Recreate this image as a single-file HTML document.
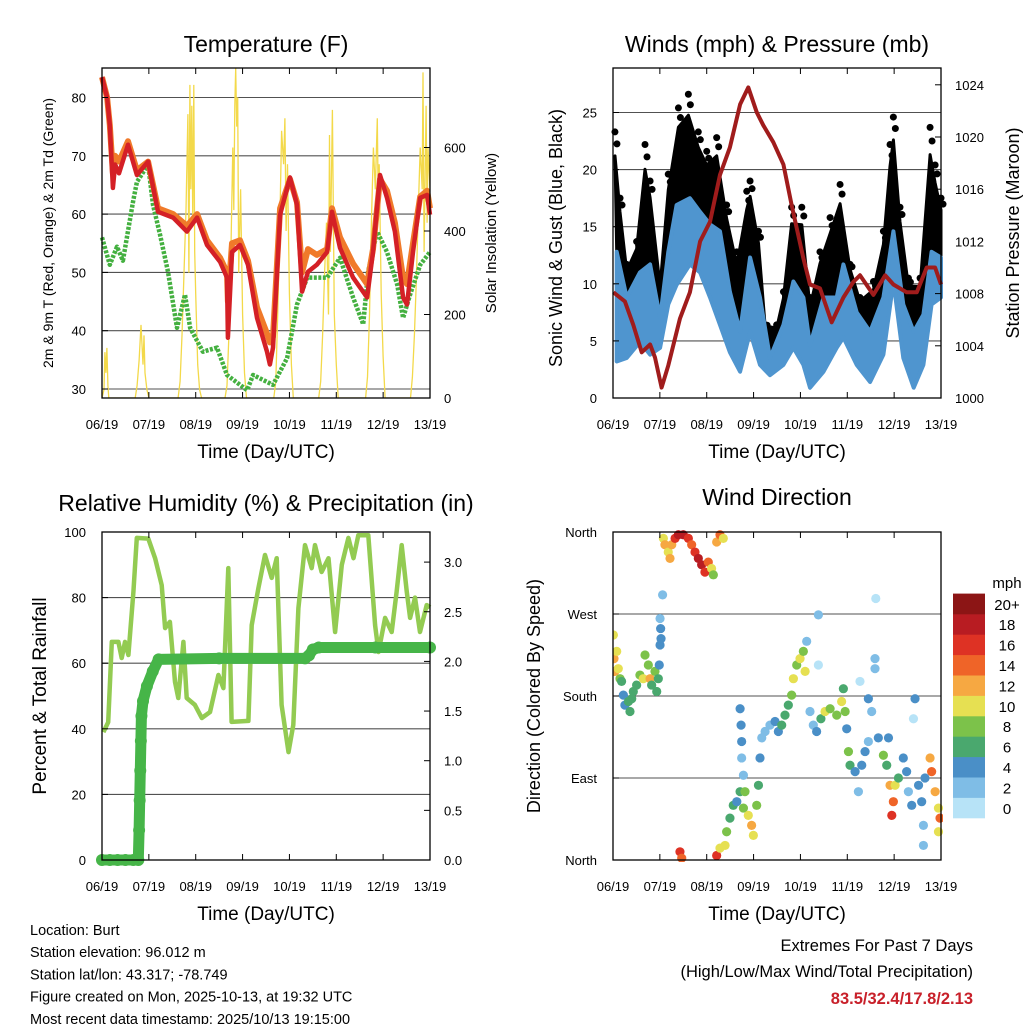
<!DOCTYPE html>
<html><head><meta charset="utf-8"><style>
html,body{margin:0;padding:0;background:#fff}
svg{display:block;font-family:"Liberation Sans",sans-serif}
</style></head><body>
<svg id="s" width="1024" height="1024" viewBox="0 0 1024 1024" xmlns="http://www.w3.org/2000/svg">
<g id="g"></g>
</svg>
<script>
// ---------- DATA ----------
const dayLabels=["06/19","07/19","08/19","09/19","10/19","11/19","12/19","13/19"];
const tempTicks=[30,40,50,60,70,80];
const solarTicks=[0,200,400,600];
const windTicks=[0,5,10,15,20,25];
const presTicks=[1000,1004,1008,1012,1016,1020,1024];
const rhTicks=[0,20,40,60,80,100];
const rainTicks=[0.0,0.5,1.0,1.5,2.0,2.5,3.0];
const dirTicks=[0,90,180,270,360];
const dirLabels=["North","East","South","West","North"];
const cbLabels=["0","2","4","6","8","10","12","14","16","18","20+"];
const cbColors=["#b7e3f7","#7fbde6","#4a8fc7","#4aa86e","#7cc24a","#e6e052","#f6a842","#ef6428","#de3224","#b81c22","#8c1515"];

const redHours=[0,2.6,4,5.6,6.7,8.7,13.3,17.9,23.6,28.7,36.4,43.5,48.7,53.8,60.5,64,64.5,66.6,70.7,74.8,79.4,84.5,86,87.6,91.2,96.3,99.9,102.5,105.5,110,115.3,117.8,121.9,128.6,135.8,138.8,142.4,146,150,154.2,156.2,159.3,163,166.5,168];
const redTemp=[83.5,80,75.3,64.5,68.5,67,71.9,66.7,69,60.4,59.4,57,59.4,54.7,51.8,49.1,38.8,53.5,54.7,51.3,42.2,36.4,34.2,37.1,59.9,66.3,61.6,46.7,50.1,51.3,53.5,60.4,54.2,49.1,45.7,53.5,66.7,62.8,57,45.7,44.5,53.5,62.8,63.3,59.9];
const orangeTemp=[83.5,80,75.3,67,70,69,72.5,67.5,69,61,60,58,60,55.5,52.5,50,45,55,55.5,52,44,39.5,38,39,61,66,62,50,54,53,54,61,56,51.5,48,54,66,64,58.5,49,48,55,63,64,61];
const dewHours=[0,4,7.7,10.7,15.9,17.9,23.6,26.1,29.7,33.8,38.4,42.5,45.1,51.7,58.9,64,74.3,77.4,87.6,94.8,99.9,105.1,115.3,121.9,128.6,133.8,136.3,140.9,146,151.2,154.2,157.8,163,168];
const dewTemp=[56,51.3,54.4,52,62.1,65.5,68.5,61.6,56.5,50.1,40.5,46.2,40.5,36.4,37.1,32.4,29.8,32.4,30.7,35.3,44.5,49.1,49.1,52.5,45.7,41.1,50.1,57,53.5,47.9,42.2,46.2,51.3,53.5];
const solarHours=[0,1,1.5,2,2.5,3,3.5,16,17,18,19,20,21,21.5,22,23,24,39,40,41,42,43,44,44.5,45,45.5,46,46.5,47,47.5,48,49,50,51,63,64,65,66,67,67.5,68,68.5,69,69.5,70,71,72,73,74,88,89,90,91,92,93,93.7,94.3,95,96,97,98,111,112,113,114,115,116,116.5,117,118,119,120,121,135,136,137,138,139,140,141,141.5,142,143,144,145,158,159,160,161,162,163,164,164.4,165,166,166.5,167,168];
const solarVal=[0,20,110,60,120,30,0,0,0,30,90,175,80,150,60,20,0,0,40,150,300,450,680,300,750,500,700,420,750,350,250,80,20,0,0,30,150,350,600,450,700,790,650,720,300,500,200,60,0,0,40,200,400,640,560,670,400,560,250,80,0,0,40,150,300,420,200,630,350,690,200,80,0,0,50,200,420,600,500,670,450,560,250,100,0,0,50,150,280,450,600,500,780,350,700,420,600,500];

const windHours=[1.9,7.0,13.8,19.0,24.1,28.3,32.6,39.4,44.6,49.7,54.8,59.9,65.1,70.2,75.3,80.4,87.3,92.4,97.5,100.9,107.8,114.6,118.0,124.8,131.7,138.5,143.6,148.7,154.0,159.0,163.2,168];
const windHi=[12.8,8.8,11,11.7,7,12.8,16.9,17.5,16.3,15.2,14.6,9.3,5.8,12.3,8.8,3.5,6.4,10.2,8.8,4.6,8.8,8.8,11.7,7.5,5.8,8.8,14.6,8.2,5.8,7.3,12.8,12.3];
const windLo=[3.2,3.5,4.9,3.8,4.4,8.2,9.9,11.7,11,8.8,6.4,4,2.3,5.8,2.9,2,2.9,4.4,2.9,0.9,2.3,4.4,5.3,2.9,1.4,3.8,10.2,3.5,0.9,2.9,8.2,8.8];
const gustHours=[1.0,3.6,7.0,12.1,16.4,19.0,24.1,28.3,33.5,38.6,43.7,48.0,53.1,58.2,63.4,68.5,70.2,74.5,77.9,83.8,87.3,91.5,96.7,100.9,106.0,111.2,116.3,121.4,126.5,133.4,138.5,141.9,143.6,147.0,151.3,157.3,162.4,165.0,168];
const gustVal=[23.3,17.5,11.7,13.7,22.2,19,10.5,19.6,25.4,26.6,23.3,21.6,22.8,16.9,12.8,18.1,19,14.6,6.4,6.4,9.3,16.7,16.7,8.8,12.8,15.8,18.7,11.7,8.8,10.2,14.6,22.2,24.6,16.7,10.5,10.5,23.7,20.4,17.5];
const presHours=[0.2,6.1,10.4,14.7,19.0,21.5,24.9,28.3,34.3,39.4,44.6,49.7,54.8,59.9,65.1,69.3,73.6,77.0,82.1,87.3,91.5,97.5,100.9,106.0,112.0,118.0,123.1,126.5,133.4,139.4,143.6,150.4,155.6,160.7,165.0,168];
const presVal=[1008.1,1007.4,1005.6,1003.5,1004.1,1003.1,1000.8,1002.5,1006.1,1008.1,1012,1013.5,1017.1,1019.2,1022.5,1023.8,1021.9,1020.9,1019.6,1017.9,1014.8,1010.7,1008.7,1008.4,1005.8,1007.7,1008.9,1009.4,1007.9,1009.4,1008.7,1008.1,1008.1,1010,1010,1008.7];

const rhHours=[0.7,3.2,5.0,8.4,10.1,11.8,13.5,16.1,17.8,23.7,27.2,30.6,32.3,34.8,37.4,39.1,41.7,43.4,47.6,51.1,55.3,59.6,62.2,64.7,66.4,75.0,76.7,80.1,83.5,86.9,89.5,92.0,95.5,98.0,100.6,104.0,107.4,109.1,112.5,116.0,119.4,122.8,126.2,128.8,131.3,136.4,139.9,141.6,145.0,148.4,150.9,153.5,156.1,157.8,160.3,162.9,166.3,168];
const rhVal=[39,42,66.5,66.5,61.6,66.5,62.5,81.7,98.2,98,92,83.8,70.7,72.6,54.3,49.4,66.5,49.4,47.3,43.3,45.1,56.4,52.4,89,42.1,42.4,71.6,82.9,93,86,92,47.3,32.9,41.2,76.8,96,89,96,87.8,92,69.5,90,98.2,92,99,99,71.6,63.4,73.8,69.5,81.7,96,81.7,73.8,80,69.5,77.7,77];
const rainHours=[0,4,8,12,16,18.6,19.0,19.3,19.6,19.9,20.2,21,23,26,29,60,104,106,108,111,140,168];
const rainVal=[0,0,0,0,0,0,0.3,0.6,0.9,1.2,1.45,1.6,1.75,1.9,2.02,2.03,2.03,2.06,2.12,2.14,2.14,2.14];

const dirHours=[0.2,0.5,1.0,1.9,2.7,3.6,4.4,5.3,6.1,7.9,8.7,9.6,10.4,12.1,13.8,15.5,16.4,18.1,19.0,19.8,21.5,22.4,23.2,23.7,24.1,24.4,24.1,25.4,24.6,25.8,26.6,28.3,29.2,30.1,31.8,33.5,36.0,38.6,40.3,42.0,43.7,45.4,47.1,48.8,50.5,51.4,53.1,54.8,56.5,34.3,35.2,53.1,54.8,57.4,58.2,59.9,61.6,63.4,65.1,66.8,67.6,69.3,71.0,71.9,73.6,74.5,65.1,65.6,65.9,65.9,66.8,75.3,76.2,77.9,80.4,83.0,84.7,86.4,88.1,89.8,91.5,92.4,94.1,95.8,97.5,98.4,99.2,100.9,102.6,104.3,105.2,105.2,106.5,108.6,111.2,114.6,117.1,118.0,118.9,119.7,120.6,121.4,124.0,125.7,127.4,129.1,130.8,130.8,126.5,132.5,134.2,134.6,134.2,135.9,138.5,140.2,141.1,141.9,143.6,142.8,144.5,146.2,148.7,150.4,151.3,153.9,154.7,153.0,156.5,158.1,159.0,159.8,162.4,163.2,165.0,166.7,167.5,166.7,159.0];
const dirDeg=[247,221,207,229,210,199,196,181,170,174,163,177,185,192,203,199,225,214,199,192,207,185,199,214,236,254,265,291,243,353,346,338,331,346,353,357,357,353,346,338,331,324,316,327,320,313,349,357,353,9,2,5,13,16,31,46,60,64,75,57,75,49,38,27,60,82,166,148,130,112,93,112,134,141,148,152,141,148,159,170,181,199,214,221,229,207,240,163,148,141,214,269,155,163,166,159,174,188,163,144,119,104,97,75,104,119,130,177,196,163,221,287,210,134,115,104,134,82,64,49,82,90,112,97,75,155,177,60,82,64,38,90,112,97,75,57,46,31,16];
const dirSpeed=[10,11,12,9,10,8,6,4,4,6,6,5,6,6,8,10,7,8,12,6,7,6,5,3,3,3,2,2,4,10,12,10,12,12,16,18,18,16,14,16,18,18,16,14,10,8,12,14,10,16,14,16,10,10,8,6,6,4,6,8,8,10,12,10,8,6,4,4,4,2,2,4,2,2,2,4,4,6,6,6,8,10,8,10,8,10,2,2,2,4,0,2,6,10,8,8,10,6,8,4,8,6,4,2,4,4,2,4,0,2,2,0,2,4,8,6,4,12,14,16,10,6,4,4,2,0,4,4,4,4,2,4,12,14,12,10,14,10,2];

// ---------- HELPERS ----------
const NS="http://www.w3.org/2000/svg";
const G=document.getElementById('g');
function mk(tag,at,parent){const e=document.createElementNS(NS,tag);for(const k in at)e.setAttribute(k,at[k]);(parent||G).appendChild(e);return e;}
function txt(str,x,y,size,anchor,extra,parent){const e=mk('text',Object.assign({x:x,y:y,'font-size':size,'text-anchor':anchor||'middle',fill:'#000'},extra||{}),parent);e.textContent=str;return e;}
function xs(p,h){return p.x0+(h/168)*(p.x1-p.x0);}
function poly(hs,vs,p,fy){return hs.map((h,i)=>xs(p,h).toFixed(1)+','+fy(vs[i]).toFixed(1)).join(' ');}
function interp(hs,vs,h){if(h<=hs[0])return vs[0];for(let i=1;i<hs.length;i++){if(h<=hs[i]){const t=(h-hs[i-1])/(hs[i]-hs[i-1]);return vs[i-1]+t*(vs[i]-vs[i-1]);}}return vs[vs.length-1];}

const P1={x0:102,x1:430,y0:68,y1:398}, P2={x0:613,x1:941,y0:68,y1:398}, P3={x0:102,x1:430,y0:532,y1:860}, P4={x0:613,x1:941,y0:532,y1:860};
const yT=v=>389-(v-30)*5.83, yS=v=>398-v*0.4175;
const yW=v=>398-v*11.42, yP=v=>398-(v-1000)*13.05;
const yRH=v=>860-v*3.28, yR=v=>860-v*99.3;
const yD=v=>860-v*328/360;

function frameAndX(p,name){
  const g=mk('g',{});
  
  
  for(let d=0;d<=7;d++){
    const x=xs(p,d*24);
    mk('line',{x1:x,y1:p.y1,x2:x,y2:p.y1-6,stroke:'#000','stroke-width':1},g);
    mk('line',{x1:x,y1:p.y0,x2:x,y2:p.y0+6,stroke:'#000','stroke-width':1},g);
    const t=txt(dayLabels[d],x,p.y1+31,13,'middle',{},g);
    
    
  }
  const tt=txt('Time (Day/UTC)',(p.x0+p.x1)/2,p.y1+60,19,'middle',{},g);
  
  
}
function border(p,name){
  const r=mk('rect',{x:p.x0,y:p.y0,width:p.x1-p.x0,height:p.y1-p.y0,fill:'none',stroke:'#000','stroke-width':1.3});
  
  
}
function grid(p,ticks,fy){
  ticks.forEach(v=>{const y=fy(v);mk('line',{x1:p.x0,y1:y,x2:p.x1,y2:y,stroke:'#333','stroke-width':1.1,'stroke-opacity':0.85});});
}
function leftTicks(p,ticks,fy,labels,name){
  const g=mk('g',{});
  
  
  ticks.forEach((v,i)=>{const y=fy(v);mk('line',{x1:p.x0,y1:y,x2:p.x0+6,y2:y,stroke:'#000'},g);
    txt(labels?labels[i]:String(v),p.x0-16,y+5,13,'end',{},g);});
}
function rightTicks(p,ticks,fy,labels,name){
  const g=mk('g',{});
  
  
  ticks.forEach((v,i)=>{const y=fy(v);mk('line',{x1:p.x1,y1:y,x2:p.x1-6,y2:y,stroke:'#000'},g);
    txt(labels?labels[i]:String(v),p.x1+14,y+5,13,'start',{},g);});
}
function vtitle(str,x,y,size,name){
  const t=txt(str,x,y,size,'middle',{transform:'rotate(-90 '+x+' '+y+')'});
  
  
}
function title(str,x,y,name){
  const t=txt(str,x,y,23,'middle');
  
  
}

// ---------- PANEL 1: Temperature ----------
{
  const cp=mk('clipPath',{id:'c1'});mk('rect',{x:P1.x0,y:P1.y0,width:328,height:330},cp);
  grid(P1,tempTicks,yT);
  const sol=mk('polyline',{points:poly(solarHours,solarVal,P1,yS),fill:'none',stroke:'#f3d94a','stroke-width':1.3,'clip-path':'url(#c1)'});
  
  
  const dew=mk('polyline',{points:poly(dewHours,dewTemp,P1,yT),fill:'none',stroke:'#44b040','stroke-width':4.5,'stroke-dasharray':'3 1.5','stroke-linejoin':'round'});
  
  
  const or=mk('polyline',{points:poly(redHours,orangeTemp,P1,yT),fill:'none',stroke:'#f07a2a','stroke-width':6,'stroke-linejoin':'round'});
  
  
  const rd=mk('polyline',{points:poly(redHours,redTemp,P1,yT),fill:'none',stroke:'#d42026','stroke-width':4.5,'stroke-linejoin':'round'});
  
  
  border(P1,'temperature');
  leftTicks(P1,tempTicks,yT,null,'temp-y-axis');
  rightTicks(P1,solarTicks,yS,null,'solar-y-axis');
  frameAndX(P1,'temperature');
  title('Temperature (F)',266,52,'temperature-title');
  vtitle('2m & 9m T (Red, Orange) & 2m Td (Green)',53,233,14,'temp-y-axis-title');
  vtitle('Solar Insolation (Yellow)',496,233,15,'solar-y-axis-title');
}
// ---------- PANEL 2: Winds ----------
{
  grid(P2,windTicks.slice(1),yW);
  // black gust cloud: from wind-band top up toward gust values
  const top=gustHours.map((h,i)=>{const base=interp(windHours,windHi,h);const v=base+(gustVal[i]-base)*0.8;return xs(P2,h).toFixed(1)+','+yW(v).toFixed(1);});
  const bot=windHours.map((h,i)=>xs(P2,h).toFixed(1)+','+yW(windHi[i]).toFixed(1)).reverse();
  const gp=mk('polygon',{points:top.concat(bot).join(' '),fill:'#000','stroke':'#000','stroke-width':3,'stroke-linejoin':'round'});
  
  
  gustHours.forEach((h,i)=>{
    const base=interp(windHours,windHi,h);
    const c=mk('circle',{cx:xs(P2,h),cy:yW(gustVal[i]),r:3.5,fill:'#000'});
    
    
    const c2=mk('circle',{cx:xs(P2,h)+2,cy:yW(base+(gustVal[i]-base)*0.9),r:3.5,fill:'#000'});
    
    
  });
  const wt=windHours.map((h,i)=>xs(P2,h).toFixed(1)+','+yW(windHi[i]).toFixed(1));
  const wb=windHours.map((h,i)=>xs(P2,h).toFixed(1)+','+yW(windLo[i]).toFixed(1)).reverse();
  const wp=mk('polygon',{points:wt.concat(wb).join(' '),fill:'#4f95cf',stroke:'#4f95cf','stroke-width':4,'stroke-linejoin':'round'});
  
  
  const pl=mk('polyline',{points:poly(presHours,presVal,P2,yP),fill:'none',stroke:'#a01c1c','stroke-width':4,'stroke-linejoin':'round'});
  
  
  border(P2,'winds');
  leftTicks(P2,windTicks,yW,null,'wind-y-axis');
  rightTicks(P2,presTicks,yP,null,'pressure-y-axis');
  frameAndX(P2,'winds');
  title('Winds (mph) & Pressure (mb)',777,52,'winds-title');
  vtitle('Sonic Wind & Gust (Blue, Black)',562,238,18,'wind-y-axis-title');
  vtitle('Station Pressure (Maroon)',1019,233,18,'pressure-y-axis-title');
}
// ---------- PANEL 3: RH & Precip ----------
{
  grid(P3,rhTicks,yRH);
  const rl=mk('polyline',{points:poly(rhHours,rhVal,P3,yRH),fill:'none',stroke:'#93cb52','stroke-width':4.5,'stroke-linejoin':'round'});
  
  
  const pr=mk('polyline',{points:poly(rainHours,rainVal,P3,yR),fill:'none',stroke:'#46b548','stroke-width':11,'stroke-linejoin':'round','stroke-linecap':'round'});
  
  
  rainHours.forEach((h,i)=>{const c=mk('circle',{cx:xs(P3,h),cy:yR(rainVal[i]),r:6,fill:'#46b548'});
    
    });
  border(P3,'humidity');
  leftTicks(P3,rhTicks,yRH,null,'rh-y-axis');
  rightTicks(P3,rainTicks,yR,rainTicks.map(v=>v.toFixed(1)),'rain-y-axis');
  frameAndX(P3,'humidity');
  title('Relative Humidity (%) & Precipitation (in)',266,511,'humidity-title');
  vtitle('Percent & Total Rainfall',46,696,19,'rh-y-axis-title');
}
// ---------- PANEL 4: Wind Direction ----------
{
  grid(P4,dirTicks,yD);
  const cp=mk('clipPath',{id:'c4'});mk('rect',{x:P4.x0,y:P4.y0-2,width:330,height:332},cp);
  const sg=mk('g',{'clip-path':'url(#c4)'});
  
  
  dirHours.forEach((h,i)=>{
    const b=Math.min(10,Math.floor((dirSpeed[i]+1)/2));
    const c=mk('circle',{cx:xs(P4,h),cy:yD(dirDeg[i]),r:4.6,fill:cbColors[b]},sg);
    
    
  });
  border(P4,'direction');
  leftTicks(P4,dirTicks,yD,dirLabels,'direction-y-axis');
  frameAndX(P4,'direction');
  title('Wind Direction',777,505,'direction-title');
  vtitle('Direction (Colored By Speed)',540,696,18,'direction-y-axis-title');
  const cb=mk('g',{});
  
  
  const h=20.4;
  cbColors.forEach((col,i)=>{const y=818-(i+1)*h;mk('rect',{x:953,y:y,width:32,height:h+0.3,fill:col},cb);
    txt(cbLabels[i],1007,y+h/2+6,15,'middle',{},cb);});
  txt('mph',1007,588,15,'middle',{},cb);
}
// ---------- Footer text ----------
{
  const lines=["Location: Burt","Station elevation: 96.012 m","Station lat/lon: 43.317; -78.749","Figure created on Mon, 2025-10-13, at 19:32 UTC","Most recent data timestamp: 2025/10/13 19:15:00"];
  const g=mk('g',{});
  
  
  lines.forEach((l,i)=>txt(l,30,935+i*22.2,14.5,'start',{},g));
  const g2=mk('g',{});
  
  
  txt('Extremes For Past 7 Days',973,951,16.5,'end',{},g2);
  txt('(High/Low/Max Wind/Total Precipitation)',973,977,16.5,'end',{},g2);
  txt('83.5/32.4/17.8/2.13',973,1004,16.5,'end',{fill:'#c8202a','font-weight':'bold'},g2);
}
</script>
</body></html>
